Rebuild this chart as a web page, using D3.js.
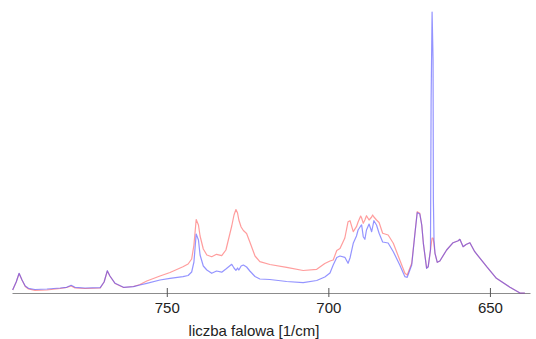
<!DOCTYPE html>
<html>
<head>
<meta charset="utf-8">
<script src="https://cdn.jsdelivr.net/npm/d3@7"></script>
<style>
  body { margin: 0; background: #fff; }
  svg { display: block; }
</style>
</head>
<body>
<div class="result"></div>
<script>
// Width and height
const w = 536;
const h = 339;

// Wavenumber grid [1/cm], shared by both spectra
const wavenumber = [
  797.7, 796.6, 795.7, 794.8, 793.8, 792.8, 790.8, 787.1, 783.0, 781.0,
  779.6, 778.4, 775.3, 770.6, 769.4, 768.4, 767.6, 766.0, 763.4, 760.3,
  758.3, 756.2, 752.1, 749.0, 745.0, 743.4, 742.3, 741.6, 740.9, 740.2,
  739.7, 738.7, 737.6, 736.1, 734.6, 733.0, 731.7, 729.9, 729.2, 728.6,
  728.1, 727.7, 727.0, 726.3, 725.3, 724.3, 722.7, 721.2, 718.1, 712.9,
  707.8, 703.6, 701.1, 699.5, 698.5, 697.4, 696.4, 694.9, 693.9, 693.3,
  692.3, 691.3, 690.8, 690.0, 689.7, 689.2, 688.7, 688.2, 687.4, 686.6,
  686.3, 685.9, 685.1, 684.3, 683.2, 681.5, 679.9, 677.9, 676.3, 675.6,
  674.2, 673.2, 672.5, 671.7, 671.1, 670.6, 669.6, 669.1, 668.4, 668.2,
  667.9, 667.6, 667.5, 667.3, 667.0, 666.3, 665.5, 663.4, 661.4, 659.8,
  659.3, 658.3, 657.4, 656.2, 654.7, 651.0, 648.0, 643.8, 640.7, 639.2
];

// Intensity (a.u.), blue spectrum
const blueIntensity = [
  3, 11, 19.7, 13, 7, 4.7, 3.5, 4, 5, 5.7,
  7.7, 5.7, 5, 5.3, 11, 22.3, 17, 9.7, 5.7, 6.3,
  8, 9.7, 13, 14.7, 16.3, 17.5, 21, 31, 59, 53,
  38, 27, 23, 19.7, 22, 20.8, 24, 28.7, 25, 22.7,
  25, 23, 27, 28, 26, 22, 16.5, 14, 13.5, 11.5,
  10.3, 12.5, 16, 20, 28, 35.5, 37, 35.7, 29.7, 35,
  49.7, 57, 63, 67, 68, 56.3, 53.7, 63, 69, 61.3,
  66, 72.3, 68, 59.7, 51, 50, 41.3, 28, 16.3, 15.7,
  28, 59.7, 80.3, 79, 68, 49.7, 24.7, 26.3, 43, 193,
  281, 233, 93, 53, 39.7, 30.7, 32, 43, 50.3, 52.3,
  53.7, 46.3, 48.5, 50.3, 41.3, 26.3, 14.7, 5.7, 0, 0
];

// Intensity (a.u.), red spectrum
const redIntensity = [
  3, 11, 19.5, 13, 6.5, 4, 2.7, 3, 4.5, 5.5,
  7, 5, 4.5, 5, 11, 22, 17, 9.5, 5.5, 6.5,
  8.5, 12, 17, 20.5, 26.2, 29, 34, 48, 73.5, 68,
  57, 44, 38, 36.3, 38.7, 37.3, 43, 67, 78, 83.5,
  80, 73, 66, 62.5, 59.5, 51, 37, 31.3, 28.5, 25.7,
  22.5, 23.7, 29.5, 32, 33, 42.5, 44.5, 55, 71.3, 72.3,
  61.3, 66.3, 71, 77, 75, 69.7, 73, 77.3, 73, 76,
  78, 76, 73, 70.5, 59.7, 58, 49.7, 33, 19.7, 18,
  29.7, 59.7, 81.3, 79.7, 68, 49.7, 25, 26.3, 43, 48,
  55, 55, 53, 48, 39.7, 30.7, 32, 43, 50.3, 52.3,
  53.7, 46.3, 48.5, 50.3, 41.3, 26.3, 14.7, 5.7, 0, 0
];

// Axis ticks
const tickValues = [750, 700, 650];
const xLabel = 'liczba falowa [1/cm]';

// Create scale functions (wavenumber decreases to the right)
const xScale = d3.scaleLinear()
  .domain([797.9, 637.6])
  .range([12, 530]);

const yScale = d3.scaleLinear()
  .domain([0, 281])
  .range([293, 12]);

// Create SVG element
const svg = d3.select('.result')
  .append('svg')
  .attr('width', w)
  .attr('height', h)
  .style('font-family', '"Liberation Sans", Arial, sans-serif');

// X axis
const xAxis = d3.axisBottom(xScale)
  .tickValues(tickValues)
  .tickSizeOuter(0)
  .tickFormat(d3.format('d'));

const gx = svg.append('g')
  .attr('transform', 'translate(0,' + yScale(0) + ')')
  .call(xAxis);

gx.select('.domain').attr('stroke', '#8c8c8c');
gx.selectAll('.tick line')
  .attr('stroke', '#555')
  .attr('y1', -5)
  .attr('y2', 4);
gx.selectAll('.tick text')
  .attr('y', 20)
  .attr('dy', 0)
  .attr('fill', '#222')
  .style('font-size', '15px');

svg.append('text')
  .attr('x', 254)
  .attr('y', 336)
  .attr('text-anchor', 'middle')
  .attr('fill', '#222')
  .style('font-size', '15px')
  .text(xLabel);

// Spectra
const line = d3.line()
  .x(function (d, i) { return xScale(wavenumber[i]); })
  .y(function (d) { return yScale(d); });

svg.append('path')
  .datum(redIntensity)
  .attr('fill', 'none')
  .attr('stroke', 'rgb(255,60,60)')
  .attr('stroke-opacity', 0.5)
  .attr('stroke-width', 1.2)
  .attr('stroke-linejoin', 'round')
  .attr('d', line);

svg.append('path')
  .datum(blueIntensity)
  .attr('fill', 'none')
  .attr('stroke', 'rgb(60,60,255)')
  .attr('stroke-opacity', 0.55)
  .attr('stroke-width', 1.2)
  .attr('stroke-linejoin', 'round')
  .attr('d', line);
</script>
</body>
</html>
